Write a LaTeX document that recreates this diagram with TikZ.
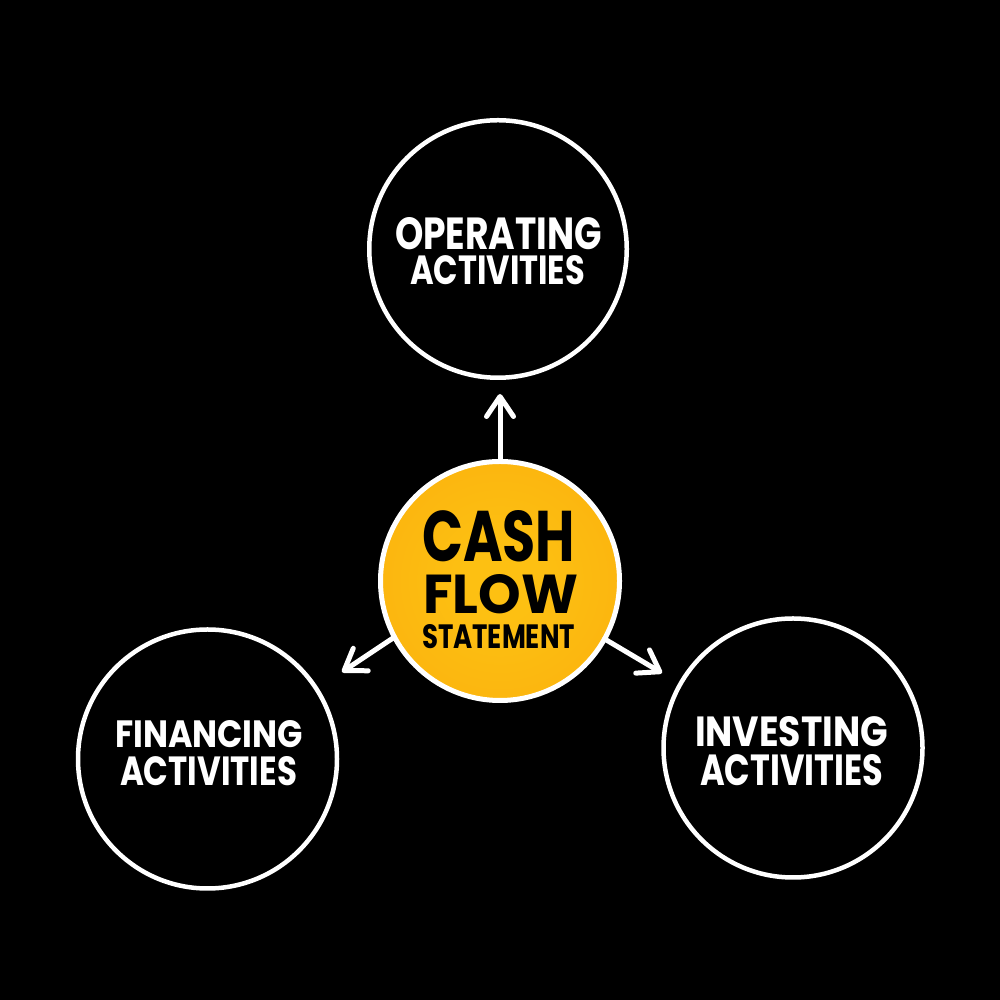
\documentclass[tikz,border=0pt]{standalone}
\usepackage{fontspec}
\setmainfont{Poppins}
\usepackage{graphicx}
\usetikzlibrary{arrows.meta}
\definecolor{cfin}{RGB}{253,192,18}
\definecolor{cfmid}{RGB}{251,178,14}
\definecolor{cfout}{RGB}{247,152,10}
\pgfdeclareradialshading{cfshade}{\pgfpoint{0bp}{0bp}}{color(0bp)=(cfin); color(8bp)=(cfin); color(32bp)=(cfmid); color(50bp)=(cfout)}
\newcommand{\fitline}[3]{\resizebox{#1pt}{#2pt}{\bfseries #3}}
\tikzset{
  ring/.style={circle, draw=white, line width=4.5pt, fill=black, inner sep=0pt, outer sep=0pt, minimum size=#1},
  hub/.style={circle, draw=white, line width=5pt, shading=cfshade, inner sep=0pt, outer sep=0pt, minimum size=239pt},
  wtxt/.style={anchor=base west, inner sep=0pt, outer sep=0pt, text=white},
  btxt/.style={anchor=base west, inner sep=0pt, outer sep=0pt, text=black},
  flow/.style={draw=white, line width=5pt, line cap=round, line join=round,
    -{Straight Barb[length=20pt,width=27pt,line cap=round,line join=round]}}
}
\begin{document}
\begin{tikzpicture}[x=1pt,y=1pt]
\useasboundingbox (0,0) rectangle (1000,1000);
\fill[black] (0,0) rectangle (1000,1000);
% circles
\node[ring=257.5pt] (op) at (498,751) {};
\node[ring=259pt] (fin) at (207.5,241) {};
\node[ring=259pt] (inv) at (793,252) {};
\node[hub] (cf) at (500,419) {};
% arrow tips
\coordinate (tipU) at (500,606);
\coordinate (tipL) at (342,328);
\coordinate (tipR) at (662,327);
\draw[flow] (cf.90) -- (tipU);
\draw[flow] (cf.208) -- (tipL);
\draw[flow] (cf.331) -- (tipR);
% texts
\node[wtxt] (t1) at (395,750) {\fitline{207}{32}{OPERATING}};
\node[wtxt] (t2) at (410,715) {\fitline{175}{29}{ACTIVITIES}};
\node[btxt] (t3) at (422,438) {\fitline{153}{51}{CASH}};
\node[btxt] (t4) at (423,386) {\fitline{155}{39}{FLOW}};
\node[btxt] (t5) at (422,351) {\fitline{153}{24}{STATEMENT}};
\node[wtxt] (t6) at (115,252) {\fitline{188}{27}{FINANCING}};
\node[wtxt] (t7) at (120,214) {\fitline{177}{29}{ACTIVITIES}};
\node[wtxt] (t8) at (695,253) {\fitline{193}{30}{INVESTING}};
\node[wtxt] (t9) at (700,214) {\fitline{183}{31}{ACTIVITIES}};
\end{tikzpicture}
\end{document}
